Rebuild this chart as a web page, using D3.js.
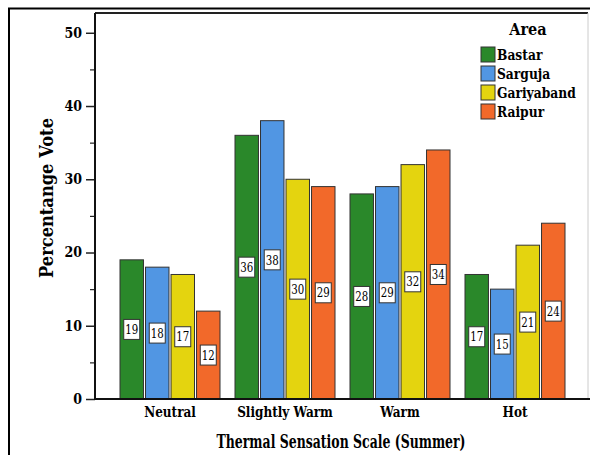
<!DOCTYPE html>
<html>
<head>
<meta charset="utf-8">
<script src="https://cdn.jsdelivr.net/npm/d3@7"></script>
<style>
  html, body { margin: 0; padding: 0; background: #fff; }
  svg { display: block; }
</style>
</head>
<body>
<svg id="chart" width="590" height="455"></svg>
<script>
// Thermal sensation votes (summer) by area
const categories = ["Neutral", "Slightly Warm", "Warm", "Hot"];
const areas = ["Bastar", "Sarguja", "Gariyaband", "Raipur"];
const bastar = [19, 36, 28, 17];
const sarguja = [18, 38, 29, 15];
const gariyaband = [17, 30, 32, 21];
const raipur = [12, 29, 34, 24];
const yTicks = [0, 10, 20, 30, 40, 50];
const yMinorTicks = [5, 15, 25, 35, 45];
const colors = ["#2a882a", "#5196e3", "#e4d40f", "#f2692a"];

const seriesValues = [bastar, sarguja, gariyaband, raipur];
const rows = categories.map((c, i) => ({
  category: c,
  values: areas.map((a, j) => ({ area: a, value: seriesValues[j][i], idx: j }))
}));

const FONT = "'DejaVu Serif', serif";
const svg = d3.select("#chart");

// narrow the serif glyphs horizontally to a Times-like width
function condense(sel, factor) {
  sel.each(function () {
    const w = this.getComputedTextLength();
    d3.select(this).attr("textLength", w * factor).attr("lengthAdjust", "spacingAndGlyphs");
  });
}

const plot = { left: 95, right: 590, top: 13, bottom: 399 };

const x = d3.scaleBand()
  .domain(categories)
  .range([plot.left, plot.right])
  .paddingInner(0.1304)
  .paddingOuter(0.2174);

const xInner = d3.scaleBand()
  .domain(areas)
  .range([0, x.bandwidth()])
  .paddingInner(0.08);

const y = d3.scaleLinear()
  .domain([0, 52.7])
  .range([plot.bottom, plot.top]);

// outer frame
svg.append("line").attr("x1", 8).attr("x2", 590).attr("y1", 8.5).attr("y2", 8.5)
  .attr("stroke", "#000").attr("stroke-width", 2);
svg.append("line").attr("x1", 9).attr("x2", 9).attr("y1", 8).attr("y2", 455)
  .attr("stroke", "#000").attr("stroke-width", 2);

// plot frame
svg.append("line").attr("x1", plot.left).attr("x2", 588).attr("y1", plot.top).attr("y2", plot.top)
  .attr("stroke", "#222").attr("stroke-width", 2);
svg.append("line").attr("x1", 588).attr("x2", 588).attr("y1", plot.top).attr("y2", plot.bottom)
  .attr("stroke", "#ccc").attr("stroke-width", 1);

// bars
const groups = svg.append("g").selectAll("g")
  .data(rows)
  .join("g")
  .attr("transform", d => `translate(${x(d.category)},0)`);

groups.selectAll("rect")
  .data(d => d.values)
  .join("rect")
  .attr("x", d => xInner(d.area))
  .attr("y", d => y(d.value))
  .attr("width", xInner.bandwidth())
  .attr("height", d => y(0) - y(d.value))
  .attr("fill", d => colors[d.idx])
  .attr("stroke", "#333")
  .attr("stroke-width", 1);

// value labels in boxes
const labels = groups.selectAll("g.lbl")
  .data(d => d.values)
  .join("g")
  .attr("class", "lbl")
  .attr("transform", d => `translate(${xInner(d.area) + xInner.bandwidth() / 2},${(y(d.value) + y(0)) / 2})`);

labels.append("rect")
  .attr("x", -8).attr("y", -10)
  .attr("width", 16).attr("height", 20)
  .attr("fill", "#fff")
  .attr("stroke", "#333")
  .attr("stroke-width", 1);

labels.append("text")
  .attr("text-anchor", "middle")
  .attr("dy", "0.36em")
  .style("font-family", FONT)
  .style("font-size", "13px")
  .attr("textLength", 13)
  .attr("lengthAdjust", "spacingAndGlyphs")
  .attr("fill", "#000")
  .text(d => d3.format("d")(d.value));

// y axis
const yAxis = svg.append("g")
  .attr("transform", `translate(${plot.left},0)`)
  .call(d3.axisLeft(y).tickValues(yTicks).tickSize(9).tickPadding(4).tickFormat(d3.format("d")));
yAxis.attr("font-family", null);
yAxis.select(".domain").remove();
yAxis.selectAll(".tick line").attr("stroke", "#222").attr("stroke-width", 1.5);
yAxis.selectAll(".tick text")
  .style("font-family", FONT)
  .style("font-weight", "bold")
  .style("font-size", "14px")
  .attr("fill", "#000")
  .call(condense, 0.9);

const yMinor = svg.append("g")
  .attr("transform", `translate(${plot.left},0)`)
  .call(d3.axisLeft(y).tickValues(yMinorTicks).tickSize(5).tickFormat(""));
yMinor.select(".domain").remove();
yMinor.selectAll(".tick line").attr("stroke", "#222").attr("stroke-width", 1.2);

svg.append("line").attr("x1", plot.left).attr("x2", plot.left)
  .attr("y1", plot.top).attr("y2", plot.bottom + 1)
  .attr("stroke", "#111").attr("stroke-width", 2);

// x axis
const xAxis = svg.append("g")
  .attr("transform", `translate(0,${plot.bottom})`)
  .call(d3.axisBottom(x).tickSize(0).tickPadding(8));
xAxis.attr("font-family", null);
xAxis.select(".domain").remove();
xAxis.selectAll(".tick text")
  .style("font-family", FONT)
  .style("font-weight", "bold")
  .style("font-size", "14px")
  .attr("fill", "#000")
  .call(condense, 0.86);

svg.append("line").attr("x1", plot.left).attr("x2", 590)
  .attr("y1", plot.bottom).attr("y2", plot.bottom)
  .attr("stroke", "#111").attr("stroke-width", 2);

// axis titles
svg.append("text")
  .attr("x", 341).attr("y", 448)
  .attr("text-anchor", "middle")
  .style("font-family", FONT)
  .style("font-weight", "bold")
  .style("font-size", "18.5px")
  .attr("textLength", 249)
  .attr("lengthAdjust", "spacingAndGlyphs")
  .text("Thermal Sensation Scale (Summer)");

svg.append("text")
  .attr("transform", "translate(53,198) rotate(-90)")
  .attr("text-anchor", "middle")
  .style("font-family", FONT)
  .style("font-weight", "bold")
  .style("font-size", "18.5px")
  .attr("textLength", 160)
  .attr("lengthAdjust", "spacingAndGlyphs")
  .text("Percentange Vote");

// legend
const legend = svg.append("g").attr("transform", "translate(481,0)");
legend.append("text")
  .attr("x", 47).attr("y", 35)
  .attr("text-anchor", "middle")
  .style("font-family", FONT)
  .style("font-weight", "bold")
  .style("font-size", "17px")
  .text("Area")
  .call(condense, 0.85);

const items = legend.selectAll("g.item")
  .data(areas)
  .join("g")
  .attr("class", "item")
  .attr("transform", (d, i) => `translate(0,${47 + i * 19})`);
items.append("rect")
  .attr("width", 14).attr("height", 15)
  .attr("fill", (d, i) => colors[i])
  .attr("stroke", "#333").attr("stroke-width", 1);
items.append("text")
  .attr("transform", "translate(16,13) scale(0.82,1)")
  .style("font-family", FONT)
  .style("font-weight", "bold")
  .style("font-size", "15px")
  .text(d => d);
</script>
</body>
</html>
